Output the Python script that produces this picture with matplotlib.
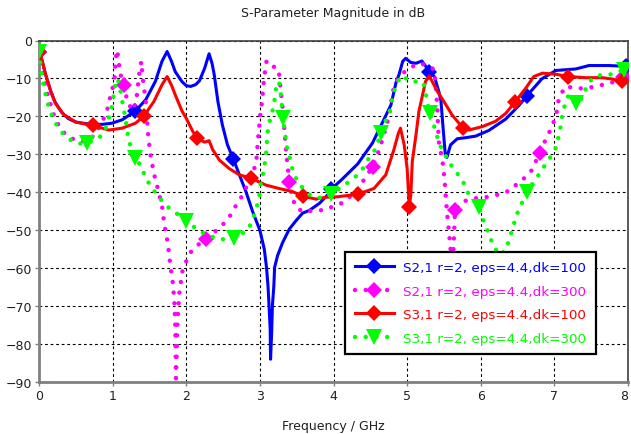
import matplotlib
matplotlib.use("Agg")
import matplotlib.pyplot as plt
import numpy as np
from matplotlib.legend_handler import HandlerTuple

# S2,1 dk=100 (blue, solid)
s21_100_f = [0.0, 0.04, 0.09, 0.16, 0.22, 0.31, 0.4, 0.5, 0.63, 0.75, 0.86, 0.99, 1.13, 1.26, 1.31,
             1.45, 1.58, 1.67, 1.74, 1.8, 1.85, 1.94, 2.0, 2.06, 2.13, 2.18, 2.25, 2.31, 2.35, 2.38,
             2.43, 2.49, 2.56, 2.64, 2.74, 2.81, 2.9, 3.0, 3.06, 3.09, 3.11, 3.12, 3.14, 3.145, 3.16,
             3.17, 3.19, 3.2, 3.24, 3.31, 3.4, 3.49, 3.58, 3.67, 3.81, 3.92, 3.97, 4.12, 4.33, 4.53,
             4.71, 4.78, 4.85, 4.89, 4.94, 4.98, 5.05, 5.12, 5.2, 5.28, 5.3, 5.37, 5.43, 5.46, 5.48,
             5.52, 5.54, 5.59, 5.68, 5.8, 5.93, 6.11, 6.34, 6.52, 6.63, 6.83, 7.02, 7.29, 7.47, 7.74,
             7.97, 8.0]
s21_100_db = [-3, -5.2, -9, -13.4, -16.3, -19, -20.6, -21.5, -21.9, -22.1, -22.1, -21.8, -20.9, -19.2, -18.6,
              -15.6, -10.8, -5.5, -2.9, -5.5, -8.2, -10.8, -11.9, -12.1, -11.6, -10.6, -7.3, -3.5, -6, -9,
              -16.1, -22.2, -27.5, -31.3, -36.3, -39.8, -45, -50, -55, -59.8, -64.6, -68.2, -76, -84, -77,
              -70, -64.6, -59.8, -56.7, -53.2, -49.7, -47.5, -45.5, -44.8, -42.9, -40.7, -39.2, -36.5, -32.5, -27,
              -19.8, -17, -11, -9, -5.5, -4.7, -5.8, -6, -5.4, -7.5, -8.3, -9.5, -13.4, -16, -21,
              -30.5, -30.8, -27.5, -25.9, -25.6, -25.2, -23.7, -20.7, -17.1, -14.5, -10.1, -7.9, -7.5, -6.6, -6.6,
              -6.8, -6.8]
s21_100_mk = [0.0, 1.31, 2.64, 3.97, 5.3, 6.63, 7.97]

# S2,1 dk=300 (magenta, dotted)
s21_300_f = [0.0, 0.03, 0.07, 0.12, 0.2, 0.28, 0.37, 0.44, 0.55, 0.65, 0.72, 0.8, 0.88, 0.92, 0.95,
             0.99, 1.03, 1.04, 1.06, 1.08, 1.1, 1.15, 1.2, 1.27, 1.32, 1.36, 1.39, 1.41, 1.45, 1.48,
             1.51, 1.56, 1.6, 1.67, 1.7, 1.75, 1.78, 1.82, 1.84, 1.85, 1.855, 1.86, 1.87, 1.875, 1.89,
             1.91, 1.95, 2.0, 2.06, 2.15, 2.27, 2.43, 2.53, 2.61, 2.68, 2.74, 2.82, 2.9, 2.95, 2.97,
             2.99, 3.01, 3.03, 3.04, 3.06, 3.09, 3.15, 3.22, 3.26, 3.28, 3.31, 3.36, 3.4, 3.44, 3.5,
             3.6, 3.72, 3.87, 3.99, 4.12, 4.24, 4.35, 4.42, 4.53, 4.6, 4.64, 4.72, 4.76, 4.78, 4.8,
             4.83, 4.89, 4.95, 5.07, 5.16, 5.27, 5.37, 5.39, 5.41, 5.43, 5.48, 5.51, 5.53, 5.55, 5.57,
             5.59, 5.61, 5.63, 5.65, 5.75, 5.91, 6.04, 6.18, 6.29, 6.41, 6.5, 6.59, 6.68, 6.8, 6.9,
             6.97, 7.03, 7.06, 7.15, 7.3, 7.42, 7.56, 7.65, 7.83, 7.93, 8.0]
s21_300_db = [-3, -6, -10, -14.5, -19.5, -23, -24.9, -25.8, -26.5, -26.5, -25.5, -23.5, -20.5, -18.9, -16.1,
              -13.5, -9.5, -5.1, -2.5, -5, -8.5, -11.7, -16, -18.5, -16, -9, -5.5, -10, -16, -24.4,
              -29.7, -35, -38, -43.5, -48.1, -53.5, -58.7, -64.2, -69.5, -75, -82, -89, -83, -77, -71.2,
              -65.8, -60.6, -58.2, -55.8, -54, -52.3, -49.7, -47.9, -45.8, -43.3, -41.6, -38.5, -35, -32.3, -27,
              -23, -18.7, -16.1, -13.4, -9.5, -5.5, -7, -6.9, -8.6, -12.6, -18, -30, -37.2, -41.6, -44.2,
              -45.2, -44.8, -44.7, -43.8, -42.8, -40.9, -38.7, -36.5, -33.3, -29.9, -27.7, -22.4, -19.3, -16.7, -14,
              -11.7, -9.7, -8.5, -6.9, -6, -6.5, -7.7, -12, -18, -26.6, -31.7, -37, -42.6, -47, -50.8,
              -55, -62, -55, -44.8, -42.5, -41.6, -41.4, -40.9, -40.3, -39.4, -37.6, -36.3, -34.6, -29.7, -25.3,
              -22.7, -19, -15.2, -12.1, -12.6, -12.6, -12.1, -11.7, -10.8, -9.5, -9]
s21_300_mk = [0.0, 1.15, 2.27, 3.4, 4.53, 5.65, 6.8, 7.93]

# S3,1 dk=100 (red, solid)
s31_100_f = [0.0, 0.04, 0.09, 0.16, 0.22, 0.34, 0.5, 0.73, 0.95, 1.13, 1.31, 1.42, 1.56, 1.67, 1.74,
             1.8, 1.85, 1.94, 2.0, 2.09, 2.15, 2.25, 2.31, 2.36, 2.45, 2.58, 2.72, 2.88, 3.08, 3.26,
             3.44, 3.58, 3.76, 3.9, 4.05, 4.33, 4.55, 4.71, 4.82, 4.88, 4.91, 4.96, 5.0, 5.03, 5.05,
             5.07, 5.12, 5.16, 5.21, 5.25, 5.3, 5.41, 5.5, 5.61, 5.76, 5.84, 6.02, 6.2, 6.34, 6.47,
             6.61, 6.72, 6.84, 7.02, 7.19, 7.42, 7.65, 7.8, 7.92, 8.0]
s31_100_db = [-3, -5.1, -9, -13.4, -16.5, -19.6, -21.5, -22.4, -23.6, -23.1, -21.8, -20, -16.1, -11.7, -9.5,
              -11.8, -14.3, -18.5, -20.5, -24, -25.8, -26.8, -26.4, -28.8, -31.5, -33.7, -35.4, -36.3, -38.1, -39,
              -39.8, -41, -41.8, -41.3, -41.2, -40.5, -39, -35.4, -28.8, -24.5, -23.1, -27.5, -33.7, -43.8, -40.7,
              -31.9, -24.9, -18.7, -14.3, -10.8, -9.3, -13.4, -16.1, -19.6, -23.1, -23.6, -22.7, -21.3, -19.2, -16.1,
              -12.6, -9.5, -8.6, -8.9, -9.5, -9.8, -9.8, -10.2, -10.8, -10.5]
s31_100_mk = [0.0, 0.73, 1.42, 2.15, 2.88, 3.58, 4.33, 5.03, 5.76, 6.47, 7.19, 7.92]

# S3,1 dk=300 (green, dotted)
s31_300_f = [0.0, 0.02, 0.04, 0.07, 0.11, 0.16, 0.22, 0.31, 0.4, 0.53, 0.65, 0.81, 0.9, 0.94, 0.99,
             1.01, 1.04, 1.07, 1.1, 1.14, 1.17, 1.22, 1.31, 1.39, 1.45, 1.54, 1.63, 1.72, 1.83, 2.0,
             2.18, 2.45, 2.65, 2.83, 2.9, 2.95, 2.99, 3.01, 3.05, 3.07, 3.09, 3.1, 3.12, 3.17, 3.2,
             3.22, 3.26, 3.29, 3.31, 3.34, 3.36, 3.44, 3.49, 3.59, 3.69, 3.85, 3.96, 4.05, 4.21, 4.33,
             4.42, 4.48, 4.58, 4.64, 4.69, 4.76, 4.8, 4.82, 4.87, 4.94, 5.03, 5.14, 5.22, 5.25, 5.27,
             5.31, 5.39, 5.43, 5.47, 5.58, 5.68, 5.77, 5.83, 5.98, 6.05, 6.11, 6.17, 6.25, 6.34, 6.38,
             6.43, 6.48, 6.54, 6.63, 6.77, 6.86, 6.95, 7.03, 7.06, 7.09, 7.11, 7.15, 7.2, 7.29, 7.36,
             7.45, 7.52, 7.65, 7.81, 7.94, 8.0]
s31_300_db = [-3, -6.4, -9.5, -12.6, -16.1, -19, -21.7, -24.2, -25.9, -27.2, -27, -25.8, -23.6, -20.9, -17.4,
              -14.8, -11.7, -10, -12.5, -17, -20, -26.5, -31, -33.2, -36.3, -39, -41.3, -43.5, -45, -47.5,
              -50.3, -52.5, -52, -50.1, -47.5, -44.4, -41.3, -38, -34.5, -31.9, -28.8, -24.9, -22.2, -18.7, -15.6,
              -12.6, -10.8, -14.8, -20.4, -24, -27.5, -33.7, -36.3, -39.1, -40.9, -41.6, -40.4, -39.4, -37.2, -35.4,
              -33.2, -31, -28.4, -24.4, -21.8, -19.2, -15.2, -13.5, -10.8, -9.2, -10.8, -10.8, -11, -13.5, -16,
              -19.2, -24, -27, -28.5, -32.4, -35, -37.6, -40.3, -44, -48.1, -51, -54, -56.5, -55.4, -52.8,
              -49.7, -46.3, -43.6, -39.8, -35.9, -33.2, -30.6, -28, -24.9, -22.2, -19.2, -16.5, -14, -16.5, -15.6,
              -11.7, -9.8, -9, -8.9, -7.7, -7.5]
s31_300_mk = [0.0, 0.65, 1.31, 2.0, 2.65, 3.31, 3.96, 4.64, 5.31, 5.98, 6.63, 7.29, 7.94]

labels = ["S2,1 r=2, eps=4.4,dk=100", "S2,1 r=2, eps=4.4,dk=300",
          "S3,1 r=2, eps=4.4,dk=100", "S3,1 r=2, eps=4.4,dk=300"]

plt.rcParams["font.family"] = ["DejaVu Sans"]
plt.rcParams["font.size"] = 9

fig = plt.figure(figsize=(6.31, 4.35), dpi=100)
ax = fig.add_axes([39 / 631, 52 / 435, 589 / 631, 341.5 / 435])

series = [
    (s21_100_f, s21_100_db, s21_100_mk, "#0000ff", "solid", "D", 8),
    (s21_300_f, s21_300_db, s21_300_mk, "#ff00ff", "dotted", "D", 8),
    (s31_100_f, s31_100_db, s31_100_mk, "#ff0000", "solid", "D", 8),
    (s31_300_f, s31_300_db, s31_300_mk, "#00ff00", "dotted", "v", 11),
]

handles = []
for i, (f, db, mk, color, style, marker, msize) in enumerate(series):
    f = np.asarray(f)
    db = np.asarray(db)
    if style == "solid":
        line, = ax.plot(f, db, color=color, lw=2.2, solid_joinstyle="round", zorder=3 + i)
    else:
        line, = ax.plot(f, db, color=color, lw=3.2, linestyle=(0, (0.01, 2.4)),
                        dash_capstyle="round", zorder=3 + i)
    idx = [int(np.argmin(np.abs(f - m))) for m in mk]
    pts, = ax.plot(f[idx], db[idx], linestyle="none", marker=marker, markersize=msize,
                   color=color, markeredgewidth=0, zorder=3 + i)
    handles.append((line, pts))

ax.set_xlim(0, 8)
ax.set_ylim(-90, 0)
ax.set_xticks(np.arange(0, 9, 1))
ax.set_yticks(np.arange(-90, 1, 10))
ax.grid(True, color="black", linestyle=(0, (2.5, 2.5)), lw=0.8)
ax.set_axisbelow(True)

for side in ("left", "bottom"):
    ax.spines[side].set_color("#808080")
    ax.spines[side].set_linewidth(2)
for side in ("top", "right"):
    ax.spines[side].set_color("#404040")
    ax.spines[side].set_linewidth(1.2)
ax.tick_params(direction="out", length=3, width=1, color="#808080", labelsize=9,
               labelcolor="#202020", pad=2)
# keep the last frequency label inside the picture
ax.get_xticklabels()[-1].set_horizontalalignment("right")

ax.set_title("S-Parameter Magnitude in dB", fontsize=9, color="#202020", pad=18)
ax.set_xlabel("Frequency / GHz", fontsize=9, color="#202020", labelpad=12)

leg = ax.legend(handles, labels, loc="lower left", bbox_to_anchor=(0.52, 0.082),
                handler_map={tuple: HandlerTuple(ndivide=1)}, numpoints=1,
                handlelength=2.9, handletextpad=0.7, labelspacing=0.78, borderpad=0.7,
                fancybox=False, framealpha=1, edgecolor="black", fontsize=9.7,
                borderaxespad=0)
leg.get_frame().set_linewidth(1.6)
leg.set_zorder(20)
for text, (_, _, _, color, _, _, _) in zip(leg.get_texts(), series):
    text.set_color(color)

fig.savefig("out.png", dpi=100)
